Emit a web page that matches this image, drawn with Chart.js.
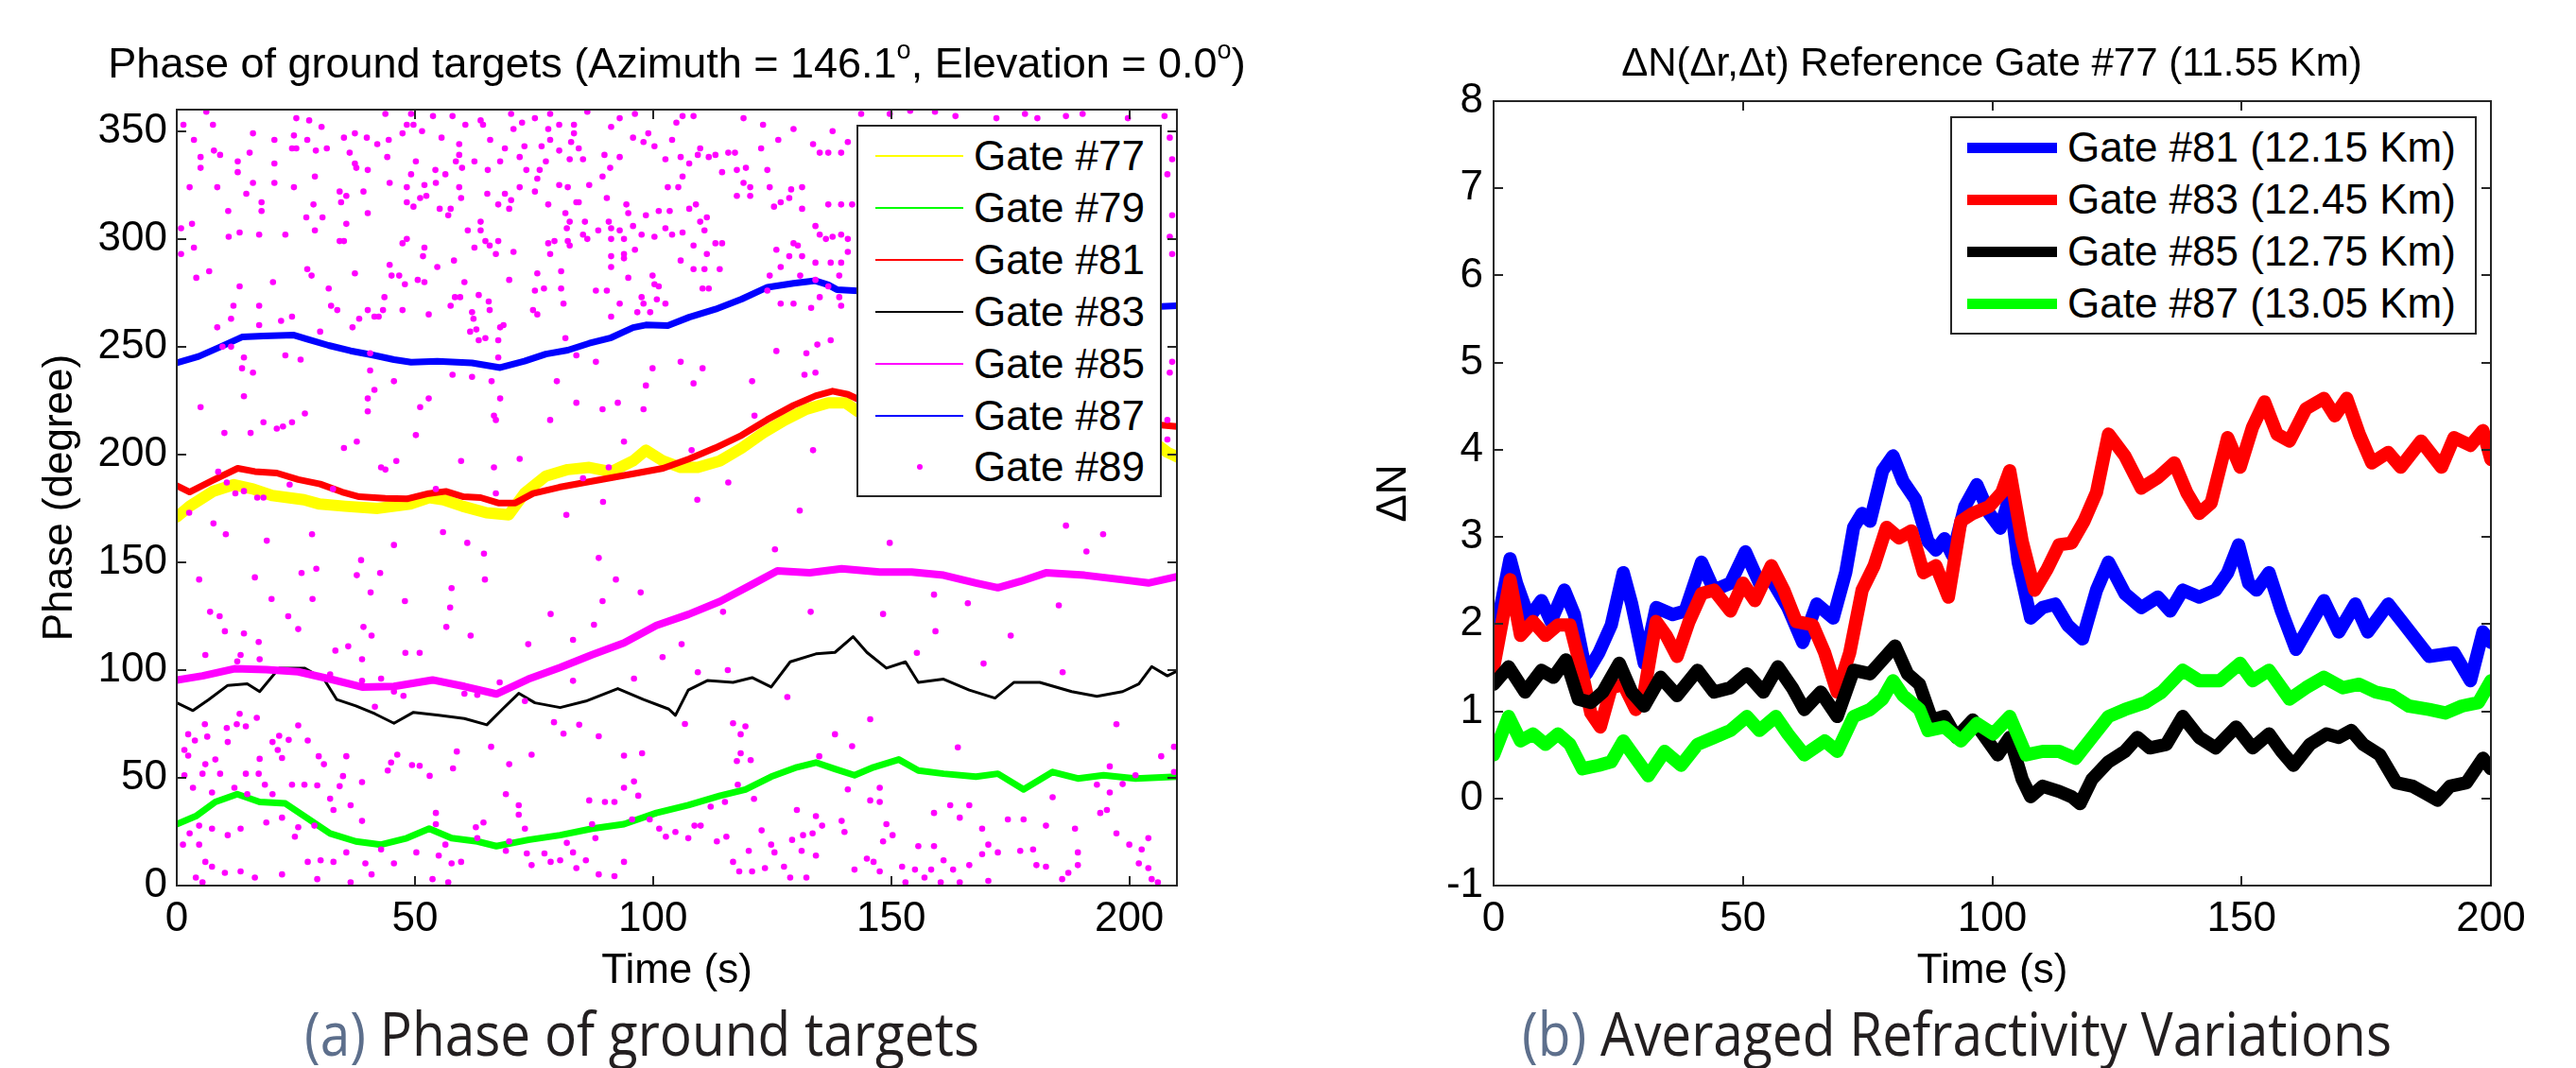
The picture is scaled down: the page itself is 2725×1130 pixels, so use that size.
<!DOCTYPE html>
<html lang="en">
<head>
<meta charset="UTF-8">
<title>Phase of ground targets / Averaged Refractivity Variations</title>
<script src="https://cdn.jsdelivr.net/npm/chart.js"></script>
<style>
  body { margin: 0; width: 2725px; height: 1130px; background: #fff; position: relative; overflow: hidden;
         font-family: "Liberation Sans", Arial, sans-serif; color: #000; }
  canvas { position: absolute; top: 0; }
  #chartA { left: 0; }
  #chartB { left: 1360px; }
  .ttl { position: absolute; white-space: nowrap; line-height: 1; transform: translateX(-50%); }
  .ttl sup { font-size: 0.6em; vertical-align: baseline; position: relative; top: -0.75em; }
  .legend { position: absolute; background: #fff; border: 2px solid #262626; box-sizing: border-box; }
  .legend .swatch { position: absolute; }
  .legend .txt { position: absolute; line-height: 1; font-size: 44px; white-space: nowrap; }
  .caption { position: absolute; white-space: nowrap; line-height: 1; font-family: "Open Sans", sans-serif;
             font-size: 64px; color: #231f20; transform-origin: 0 0; }
  .caption .lab { color: #5d6f8c; }
</style>
</head>
<body>
<canvas id="chartA" width="1360" height="1130"></canvas>
<canvas id="chartB" width="1365" height="1130"></canvas>

<div class="ttl" style="left:716px; top:44px; font-size:45px;">Phase of ground targets (Azimuth = 146.1<sup>o</sup>, Elevation = 0.0<sup>o</sup>)</div>
<div class="ttl" style="left:2107px; top:45px; font-size:42px;">&Delta;N(&Delta;r,&Delta;t) Reference Gate #77 (11.55 Km)</div>

<div id="legendA" class="legend" style="left:906px; top:132px; width:323px; height:394px;"></div>
<div id="legendB" class="legend" style="left:2063px; top:123px; width:557px; height:231px;"></div>

<div class="caption" id="capA" style="left:322px; top:1061px;"><span class="lab">(a)</span> Phase of ground targets</div>
<div class="caption" id="capB" style="left:1610px; top:1061px;"><span class="lab">(b)</span> Averaged Refractivity Variations</div>

<script>
// ---------- (a) phase of ground targets: [time s, phase deg] ----------
const g77 = [[0,171],[2.7,176],[7.7,183],[12,186],[16,184],[20,181],[26.7,179],[30,177],[35.3,176],[42.2,175],[49,177],[53,180],[56,179],[60,176],[65,173],[69.7,172],[73,182],[77.5,190],[82.1,193],[86.6,194],[91.2,192],[95.8,197],[98.5,202],[102.1,197],[105.8,194],[109.4,194],[114,197],[118.6,203],[123.1,210],[127.7,216],[132.2,221],[136.8,224],[140.4,224],[143,220],[160,215],[185,210],[205,206],[208,201],[210,199]];
const g79 = [[0,28.5],[4,32.2],[8.1,38.8],[12.7,42.4],[17.4,38.8],[22.8,38.1],[26.8,32.2],[32.2,24.2],[37.6,20.5],[42.9,19],[48.3,22],[53,26.4],[57.7,22],[63.1,20.5],[67.1,18.3],[73.8,21.2],[80.5,23.4],[87.2,26.4],[93.9,28.5],[100.7,33.7],[107.4,37.3],[114.1,41.7],[119.4,44.6],[124.8,50.5],[130.2,54.9],[134.2,57.1],[138.2,54.1],[142.3,51.2],[146.3,54.9],[151.6,58.5],[155.7,53.4],[161,51.9],[167.8,50.5],[172.4,51.9],[177.8,44.6],[183.9,52.7],[189.2,49.7],[194.6,51.2],[201.3,49.7],[210,50.5]];
const g81 = [[0,185.5],[2.7,182.6],[7.3,187.7],[12.8,193.6],[16.4,192.1],[21,191.4],[25.5,188.4],[30.1,186.3],[34.7,182.6],[38.3,180.4],[43.8,179.7],[48.3,179.4],[52.9,181.9],[56.5,182.9],[60.2,180.4],[63.8,180],[67.5,177.5],[71.1,177.5],[74.8,181.9],[80.3,184.8],[85.7,187],[91.2,189.2],[96.7,191.4],[102.1,193.6],[107.6,198],[113.1,203.1],[118.6,208.9],[124,216.2],[129.5,222.8],[134.1,227.2],[137.7,229.4],[140.9,227.9],[143,225.7],[160,220],[185,216],[205,214],[210,213]];
const g83 = [[0,84.8],[3.4,81.2],[6.7,86.3],[10.7,92.9],[14.8,93.6],[17.4,90],[21.5,100.9],[26.8,100.9],[30.9,95.8],[33.6,86.3],[37.6,83.4],[41.6,79.7],[45.6,75.3],[49.7,80.4],[55,79],[60.4,77.5],[65.1,74.6],[68.4,81.9],[71.8,89.2],[75.2,84.8],[80.5,82.6],[85.9,85.6],[92.6,91.4],[98,86.3],[103.3,81.9],[104.7,79],[107.4,90.7],[111.4,95.1],[116.8,94.3],[120.8,96.5],[124.8,92.1],[128.8,103.8],[134.2,107.5],[138.2,108.2],[142,115.5],[144.9,108.2],[149,100.9],[153,103.8],[155.7,94.3],[161,95.8],[166.4,90.7],[171.8,87],[175.8,94.3],[181.2,94.3],[187.9,90],[193.2,87.8],[198.6,90],[202,93.6],[204.7,101.6],[208,97.3],[210,99.5]];
const g85 = [[0,95.4],[5.4,97.3],[12.1,100.6],[18.8,100.2],[25.5,99.2],[32.2,95.8],[38.9,92.1],[45.6,92.4],[53.7,95.4],[60.4,92.4],[67.1,88.9],[73.8,95.8],[80.5,101.2],[87.2,107.1],[93.9,112.6],[100.7,120.7],[107.4,125.8],[114.1,131.9],[120.8,139.7],[126.1,146],[132.9,145.1],[139.6,147],[147.6,145.5],[154.3,145.5],[161,144],[167.8,140.4],[172.4,138.2],[177.1,141.1],[182.5,145.1],[190.6,144],[198.6,141.9],[204,140.4],[210,143.3]];
const g87 = [[0,242.5],[4.6,245.5],[9.1,249.9],[13.7,254.5],[18.2,255],[24.6,255.4],[27.4,253.5],[31.9,250.6],[36.5,248.1],[41,246.2],[45.6,244],[49.2,242.8],[54.7,243.3],[62,242.5],[67.9,240.3],[73,243.3],[77.5,246.6],[82.1,248.4],[86.6,251.6],[91.2,254.2],[95.8,258.9],[98.5,260.1],[103.1,259.8],[107.6,263.7],[113.1,267.4],[118.6,272.1],[124,277.6],[129.5,279.4],[134.1,280.6],[136.8,278.7],[138.6,276.5],[143,275.9],[160,274],[180,271],[200,268],[210,269]];
// gate #89: scattered phase samples
const g89 = [
  [1.4,353],[3.6,346],[7.6,353],[6.2,359],[25.1,356],[27.8,355],[30.4,352],[16,349],[24.6,348],[27.4,346],[20.5,346],[5,338],[5,333],[7.8,341],[9.1,339],[12.8,336],[12.8,331],[15.3,340],[16,326],[20.5,335],[20.5,326],[24.2,342],[25.1,342],[24.6,324],[2.7,324],[3.2,307],[0.9,305],[3.6,296],[0.9,293],[8.5,324],[10.8,313],[10.9,301],[13.2,303],[17.3,302],[17.8,317],[17.8,313],[14.6,321],[22.8,302],
  [29.2,341],[31.5,342],[29,329],[28.7,316],[27.2,310],[30.6,310],[29,304],[34.2,322],[34.5,317],[35.6,320],[34.2,299],[35.1,299],[35.6,307],[37.4,349],[35.1,347],[37.4,335],[37.7,333],[36.3,340],[40.1,332],[39.2,322],[40.1,312],[39.9,347],[42.1,344],[44.5,346],[44.2,338],[44.7,326],[47.4,349],[49.7,353],[51.5,350],[50.2,336],[49.2,330],[48.3,324],[51.1,319],[48.3,317],[49.7,315],[52.4,320],[52,325],[54.4,326],[54.3,332],[56.4,330],[55.2,314],[57,311],[57.5,314],
  [59.3,339],[58.6,336],[59.9,333],[59.3,324],[59.7,319],[60.6,353],[62.5,336],[64.3,353],[65.3,332],[65.2,321],[67.5,316],[63.8,308],[61.1,304],[63.8,304],[62.5,296],[64.8,299],[65.7,297],[67.5,299],[67,293],[68.9,321],[69.8,314],[68.9,342],[70.7,351],[73,343],[72,338],[73.4,332],[67.9,336],[65.8,346],[63.8,355],[53.8,357],[49.2,358],[43.8,358],[57.9,357],[55.6,347],[59.3,344],[48.3,353],
  [47.4,298],[48.3,300],[52,296],[51.7,292],[54.7,287],[58.2,290],[44.7,288],[45.1,283],[46.7,283],[47.9,279],[37.4,284],[52,280],[60.4,280],[58.4,273],[59.5,273],[57.5,269],[63.4,274],[65.5,271],[65.7,267],[62,266],[62.3,263],[61.6,257],[62.9,258],[63.4,253],[64.8,254],[67.9,259],[68.6,260],[67.5,253],[69.8,281],[70.7,294],
  [75.2,276],[77.1,277],[75.7,284],[80.7,285],[80.7,277],[81.2,270],[74.8,267],[75.7,265],[78,298],[78.4,293],[79.3,299],[82.1,299],[82.5,297],[81.6,312],[81.9,305],[85.7,308],[86.2,300],[88.5,304],[90.7,308],[91.2,300],[93.9,300],[93,304],[93.9,293],[96.2,295],[97.6,302],[98.5,311],[101.2,313],[103.5,313],[102.6,305],[100.3,301],[104,302],[106.2,303],[107.6,314],[109,316],[109.9,308],[111.3,310],[110.8,304],[113.1,298],[114.5,298],
  [105.8,290],[108.5,297],[111.3,293],[110.8,286],[108.5,286],[114,286],[110.4,277],[111.7,277],[99.9,283],[100.3,279],[101.2,278],[97.6,273],[98,270],[96.7,266],[93,270],[91.2,264],[99.4,266],[100.8,272],[102.6,270],[88,276],[90.3,276],[94.4,316],[94.8,312],[83.9,317],[86.6,325],[89.4,329],[90.3,319],[91,333],[93,338],[89.8,339],[95.8,347],[99,349],[98,345],[100.3,343],[102.6,337],[104,346],[105.8,338],[105.3,324],[103.1,324],[106.2,329],[107.6,335],
  [109.4,339],[109.9,342],[111.7,338],[113.1,339],[114.5,331],[115.8,340],[117.2,340],[117.6,332],[119.5,333],[119,326],[120.4,324],[117.6,320],[120.4,320],[122.7,342],[124,332],[124.5,324],[125.4,315],[126.8,317],[128.6,319],[129,323],[131.3,324],[131.3,314],[133.6,344],[135,340],[136.8,340],[139.5,340],[137.7,350],[140.9,345],[129.5,351],[126.3,346],[123.1,353],[119,356],[108.5,357],[106.2,357],[104.9,354],[96.2,358],[93,356],[91.2,352],[86.2,359],[83.4,353],[83.4,349],[80.3,353],[78.4,358],[75.2,356],[70.2,358],[72.5,354],
  [76.6,343],[78,351],[77.5,336],[76.2,332],[80.3,325],[80.3,341],[82.8,345],[84.4,342],[85.3,337],[82.5,337],[78.4,346],[72,324],[70.2,318],[75.2,322],[75.7,328],[78,316],[82.1,324],[84.4,317],[82.5,308],[85.3,302],[91.2,305],[95.8,306],[134.1,306],[135,302],[136.3,300],[137.7,301],[139.5,302],[140.9,300],[141.8,316],[139.5,316],[136.8,316],[129.5,298],[130.4,297],[125.9,295],[126.8,287],[128.6,292],[131.3,292],[134.1,289],[137.3,289],[139.5,289],[140.9,294],[130.9,283],[134.1,281],[139.1,283],[135,273],[139.1,273],[136.8,278],[139.5,269],[133.2,268],[129.5,270],[126.8,270],[124.5,283],[124,276],[91.2,292],[93.9,291],[91.2,287],[94.8,282],
  [9.6,250],[11.4,250],[14.1,245],[13.7,240],[16,238],[22.8,246],[26,244],[14.1,227],[5,222],[40.6,239],[40.6,247],[41.5,230],[40.1,226],[40.1,220],[45.6,234],[50.2,209],[52.9,226],[51.1,222],[57.9,237],[62,236],[66.1,234],[67.9,226],[67.5,245],[66.6,218],[67,216],[81.6,254],[83.9,246],[88,243],[79.8,234],[83.9,224],[78.4,216],[89.4,221],[92.6,224],[98,221],[93.9,206],[98.5,232],[99.9,240],[105.8,243],[108.5,233],[110.4,240],[121.3,218],[120.8,234],[125.9,248],[132.2,247],[134.5,251],[137.3,253],[131.8,237],[134.1,238],
  [133.6,202],[115.8,187],[108.1,202],[90.7,194],[85.3,189],[72,198],[66.6,194],[67,182],[59.7,197],[54.4,184],[46.1,197],[42.9,194],[43.8,193],[37.8,206],[35.1,203],[32.8,184],[26.9,219],[24.2,215],[22.3,213],[21,212],[18.2,215],[15.5,210],[10,210],[8.7,192],[12.3,182],[14.1,183],[16.9,180],[18.2,180],[23.7,186],[10.5,187],[30.1,257],[36.9,259],[38.3,263],[42.4,264],[43.3,267],[47.4,267],[52.9,265],[50.6,281],[43.6,273],[40.1,267],[41.5,264],[31.9,277],[32.4,269],[33.7,267],[24.2,264],[21.9,262],[17.3,260],[11.4,263],[8.5,259],[11.9,269],[13.2,278],[17.3,269],[20.2,280],[27.4,286],[28.3,283],[6.8,285],[4.1,282],
  [143.7,358],[149.7,358],[154,359.5],[159.2,359],[163.5,357],[172.1,356],[178.1,358],[180.7,356],[186.7,357],[190.2,358],[199.7,356],[207.4,357],[208.5,347],[209,337],[208,330],[209,311],[208.5,301],[209,293],[209,243],[208.5,238],[208,216],[208,207],
  [2.6,173],[7.7,168],[10.3,163],[18.9,160],[28.4,163],[38.7,151],[45.6,158],[55.9,164],[61,159],[64.5,154],[81.8,172],[89.5,178],[88.6,152],[109.3,179],[125.6,156],[130.8,174],[149.7,159],[186.7,167],[194.5,163],[191,155],
  [4.7,142],[16.4,143],[26.2,145],[29.3,147],[37.8,144],[42.7,145],[19.9,133],[28.5,133],[40.7,136],[47.9,132],[57.7,138],[57.4,129],[64.7,142],[92.2,142],[97.4,136],[89.4,132],[7,127],[9,125],[23.4,125],[10.1,118],[14.1,117],[17.2,113],[25.5,119],[39.2,120],[40.9,116],[33.3,109],[36,111],[38.9,105],[48,108],[51,108],[61.7,116],[56.6,120],[73.8,112],[78.5,126],[83.2,114],[87.6,121],[106,112],[102,106],[133.1,127],[148.3,126],[159,135],[166.1,131],[159.3,118],[155.4,108],[169.4,103],[175.1,116],[185.2,130],[186,99],[114.7,127],[109.4,99],[115.7,100],[96,96],[83.2,95],
  [13.4,107],[6,107],[17.4,105],[12.7,104],[38.9,95],[42.9,96],[32.2,98],[45.6,90],[47.6,88],[41.6,83],[60.4,89],[63.1,88.5],[67.8,94.3],[61.1,92.1],[73.1,85.6],[79.2,75.8],[84.5,74.6],[81.2,70.5],[88.6,69.3],[119.4,73.9],[116.8,75.3],[128.2,87.5],[145.6,77.2],[141.8,64.7],[164,64.1],[197.3,74.9],[209.4,64.4],[195.9,55.3],[106.7,75],[118.4,70.2],[118.4,61.4],[120.5,58.2],[97.7,61.4],[93.9,60.3],[74.5,60.7],[66,64.4],[69.8,56.3],[58.8,62.2],[58,54.4],[49.4,55.9],[51,55.6],[53.1,50.9],[44.3,53.4],[46.3,60.7],[45,57.1],[38.9,48],[34.2,46.1],[29.5,46.5],[30.9,56.3],[29.8,60],[35.6,60],[34.9,50.8],
  [27.5,67.3],[25.5,74.3],[21.5,69.5],[20.1,66.6],[23.5,67.6],[21.2,62.9],[22.1,59.2],[17.4,58.8],[17.2,51.9],[14.5,51.9],[18.5,46.8],[10.7,66.6],[10.5,73.1],[12.6,74.9],[14.5,73.9],[13.2,79.7],[16.8,77.8],[5.9,74.9],[2.4,70.2],[6.4,69.1],[3.8,67.3],[1.6,62.9],[2.4,60.3],[8.1,58.5],[6,56.3],[1.6,51.2],[5.4,51.9],[9.1,51.9],[3.4,45.4],[7.4,43.2],[12.1,45.4],[14.8,42.4],[20.1,42.4],[24.2,46.8],[26.8,46.8],[32.2,40.3],[32.9,35.1],[36.5,37.3],[22.1,31.5],[18.8,29.3],[13.4,26.4],[10.7,23.4],[7.4,26.4],[4.7,27.8],[2.7,24.2],[4.7,19],[1.3,19],[6,11],[10.1,5.9],[13.4,6.6],[7.4,8.8],[4,3.7],[5.4,1.5],[16.4,3.7],[22.1,5.2],[27.5,11],[30.2,11.7],[32.9,11],[35.6,15.4],[39.6,10.3],[40.9,5.2],[36.5,1.5],[29.5,3],
  [24.8,22.7],[25.5,27.1],[28.9,27.8],[38.9,30],[42.9,16.8],[45.6,10.3],[50.3,15.4],[54.4,33.7],[54.4,28.5],[56.4,19],[55,13.9],[57.7,10.3],[53.7,3],[57,1.5],[59.7,11],[63.1,22],[62.8,27.1],[64.4,29.3],[69.1,42.4],[71.8,37.3],[71.8,32.9],[73.1,26.4],[69.8,20.5],[69.1,16.1],[73.5,14.9],[77.2,14.9],[74.5,9.5],[78.5,11],[80.5,11.7],[83.2,15.4],[81.9,19.8],[85.9,11.7],[83.9,8.1],[88.6,5.2],[91.9,4.4],[93.9,11],[87.9,22],[87.2,28.5],[86.6,39.5],[89.9,38.8],[91.9,38.8],[93.9,45.4],[96,48.3],[96.9,41.7],[95.6,30.7],[99.3,30.7],[101.3,26.4],[102.7,22.7],[104.7,24.9],[107.4,22],[108.7,27.8],[110,27.8],[113.4,20.5],[115.4,22.7],[112.1,36.6],[115.1,38.8],[117.8,46.8],[117.6,57.8],[121.2,40.2],
  [116.8,11],[118.1,6.6],[120.8,6.6],[120.1,16.1],[122.8,25.6],[124.8,19],[125.5,15.4],[123.5,8.1],[127.5,8.8],[128.8,3.7],[132.2,3.7],[134.2,13.9],[131.2,16.1],[129.2,21.2],[131.5,23.4],[133.5,24.2],[130.2,35.1],[134.2,32.2],[135.5,27.8],[139.6,30],[140.2,24.9],[140.9,44.6],[145.6,39.5],[147.6,38.8],[149,28.5],[150.3,23.4],[148.3,20.5],[146.3,11],[147.6,6.6],[152.3,8.8],[155.7,18.3],[159,18.3],[155,7.4],[157,3.7],[161,11.7],[163,7.4],[166.4,9.5],[164.4,1.5],[160.4,1.5],[159,33.7],[162.4,37.3],[166.4,37.3],[164.4,31.5],[169.1,26.4],[170.4,19],[169.1,14.6],[172.4,15.4],[174.5,30.7],[177.8,30.7],[177.1,16.1],[179.8,16.8],[180.5,9.5],[182.5,27.8],[183.9,41],[188.6,26.4],[189.2,15.4],[189.2,9.5],[185.9,3],[182.5,8.8],[187.2,5.9],
  [193.9,33.7],[195.3,35.1],[197.3,24.2],[200,19],[204,22],[202.6,16.8],[202,10.3],[204,8.1],[204.7,3],[206,1.5],[195.9,43.2],[193.2,46.8],[198.6,47.1],[201.3,51.2],[206.7,60],[209.4,52.7],[153,1.5],[142.3,7.4],[144.9,12.5],[170.4,2.2],[134.9,60],[138.2,70.2],[147.6,45.4],[158.4,7.4]
];

// ---------- (b) averaged refractivity variations: [time s, delta N] ----------
const b81 = [[0,1.79],[3.3,2.75],[4.6,2.47],[7.1,2.07],[9.6,2.27],[11.5,2.03],[14.2,2.39],[16.2,2.11],[18.6,1.43],[21.1,1.67],[23.6,1.99],[26,2.59],[27.7,2.23],[30.2,1.55],[32.6,2.19],[35.9,2.11],[38.4,2.15],[41.7,2.71],[44.2,2.39],[47.5,2.47],[50.5,2.83],[53.3,2.47],[55.7,2.51],[59,2.19],[62,1.79],[64.8,2.23],[68.1,2.07],[70.6,2.59],[72.2,3.11],[73.9,3.27],[75.5,3.18],[78,3.76],[80.1,3.93],[82.1,3.64],[84.6,3.43],[87.1,2.95],[88.7,2.85],[90.4,2.98],[92,2.79],[94.5,3.35],[96.9,3.6],[99.4,3.27],[101.6,3.1],[103.5,3.47],[105.2,2.71],[107.7,2.07],[110.1,2.19],[112.6,2.23],[115.1,1.99],[118.1,1.83],[120.9,2.39],[123.3,2.71],[126.6,2.35],[129.9,2.19],[133.2,2.31],[135.7,2.15],[138.2,2.39],[141.5,2.31],[144.8,2.39],[147.2,2.59],[149.4,2.91],[151.4,2.47],[153,2.39],[155.5,2.59],[158,2.15],[160.9,1.71],[163.7,1.99],[166.5,2.27],[169.5,1.91],[172.8,2.23],[175.3,1.91],[179.4,2.23],[182.7,1.99],[187.6,1.63],[192.6,1.67],[195.9,1.35],[198.4,1.91],[200,1.79]];
const b83 = [[0,1.5],[3.3,2.51],[5.4,1.87],[7.9,2.03],[10.4,1.87],[12.9,1.99],[15.3,1.99],[17.8,1.43],[19.5,0.98],[21.4,0.82],[23.6,1.27],[26,1.31],[28.5,1.02],[30.2,1.22],[32.6,2.03],[34.6,1.87],[36.8,1.63],[39.2,2.03],[41.7,2.35],[44.2,2.39],[47.5,2.15],[50,2.47],[52.4,2.27],[55.7,2.67],[58.2,2.39],[60.7,2.03],[64,1.99],[66.4,1.67],[68.9,1.22],[71.4,1.67],[73.9,2.39],[76.3,2.67],[78.8,3.11],[81.3,2.99],[83.8,3.07],[86.2,2.59],[88.7,2.67],[91.2,2.31],[93.7,3.18],[96.1,3.27],[99.4,3.35],[101.9,3.51],[103.5,3.76],[106,2.95],[108.5,2.39],[111,2.63],[113.4,2.91],[115.9,2.93],[118.4,3.18],[120.9,3.51],[123.3,4.18],[126.6,3.93],[129.9,3.56],[133.2,3.68],[136.5,3.85],[139,3.51],[141.5,3.27],[143.9,3.39],[147.2,4.14],[149.7,3.8],[152.2,4.26],[154.6,4.55],[157.1,4.18],[159.6,4.1],[162.9,4.47],[166.5,4.59],[168.7,4.39],[171.1,4.59],[173.6,4.18],[176.1,3.85],[179.4,3.97],[181.9,3.8],[186,4.1],[190.1,3.8],[192.6,4.14],[195.9,4.05],[198.4,4.22],[200,3.89]];
const b85 = [[0,1.31],[3,1.51],[6.3,1.22],[9.6,1.47],[12,1.39],[14.5,1.59],[17,1.14],[19.5,1.1],[21.9,1.22],[25.2,1.55],[27.7,1.22],[30.2,1.06],[33.5,1.39],[36.8,1.18],[40.9,1.47],[44.2,1.22],[47.5,1.27],[50.8,1.43],[54.1,1.22],[57,1.51],[59.9,1.27],[62.3,1.02],[65.6,1.22],[68.9,0.94],[72.2,1.47],[75.5,1.43],[78,1.59],[80.5,1.75],[83,1.43],[85.4,1.31],[87.9,0.9],[90.4,0.94],[92.8,0.7],[96.1,0.9],[98.6,0.7],[101.1,0.5],[103.5,0.7],[106,0.22],[107.7,0.02],[110.1,0.14],[113.4,0.08],[115.9,0.02],[117.6,-0.06],[120,0.22],[123.3,0.42],[126.6,0.54],[129.1,0.7],[131.6,0.58],[134.9,0.62],[138.2,0.94],[141.5,0.7],[144.8,0.58],[148.9,0.82],[152.2,0.58],[155.5,0.74],[158,0.54],[160.4,0.38],[163.7,0.62],[167,0.74],[169.5,0.7],[172,0.78],[174.4,0.62],[177.7,0.5],[181,0.18],[184.3,0.14],[186.8,0.06],[189.3,-0.02],[191.8,0.14],[195.1,0.18],[198.4,0.46],[200,0.34]];
const b87 = [[0,0.5],[3,0.94],[5.4,0.66],[7.9,0.74],[10.4,0.62],[12.9,0.74],[15.3,0.62],[17.8,0.34],[21.1,0.38],[23.6,0.42],[26,0.66],[28.5,0.46],[31,0.26],[34.3,0.54],[37.6,0.38],[40.9,0.62],[44.2,0.7],[47.5,0.78],[50.8,0.94],[53.3,0.78],[56.6,0.94],[59,0.74],[62.3,0.5],[66.4,0.66],[68.9,0.54],[72.2,0.94],[75.5,1.02],[78,1.14],[80.1,1.35],[82.1,1.18],[85.4,1.02],[87.1,0.78],[90.4,0.82],[93.7,0.66],[96.9,0.86],[100.2,0.74],[103.5,0.94],[106.8,0.5],[110.1,0.54],[113.4,0.54],[116.7,0.46],[120,0.7],[123.3,0.94],[126.6,1.02],[130.7,1.1],[134,1.22],[138.2,1.47],[141.5,1.35],[145.6,1.35],[149.7,1.55],[152.2,1.35],[155.5,1.47],[159.6,1.14],[162.9,1.27],[166.5,1.39],[170.3,1.27],[173.6,1.31],[176.9,1.22],[180.2,1.18],[183.5,1.06],[187.6,1.02],[190.9,0.98],[194.2,1.06],[197.5,1.1],[200,1.35]];

const legendA = ['Gate #77', 'Gate #79', 'Gate #81', 'Gate #83', 'Gate #85', 'Gate #87', 'Gate #89'];
const legendB = ['Gate #81 (12.15 Km)', 'Gate #83 (12.45 Km)', 'Gate #85 (12.75 Km)', 'Gate #87 (13.05 Km)'];

const FONT = { family: '"Liberation Sans", Arial, sans-serif', size: 44 };
const LABEL_FONT = { family: '"Liberation Sans", Arial, sans-serif', size: 44 };

const pts = arr => arr.map(([x, y]) => ({ x, y }));

// matlab-like box with inward ticks on all four sides
const axesBox = {
  id: 'axesBox',
  afterDatasetsDraw(chart) {
    const { ctx, chartArea: a, scales: { x, y } } = chart;
    const len = 10;
    ctx.save();
    ctx.strokeStyle = '#262626';
    ctx.lineWidth = 2;
    ctx.strokeRect(a.left, a.top, a.right - a.left, a.bottom - a.top);
    ctx.beginPath();
    x.ticks.forEach(t => {
      const px = Math.round(x.getPixelForValue(t.value));
      ctx.moveTo(px, a.bottom); ctx.lineTo(px, a.bottom - len);
      ctx.moveTo(px, a.top); ctx.lineTo(px, a.top + len);
    });
    y.ticks.forEach(t => {
      const py = Math.round(y.getPixelForValue(t.value));
      ctx.moveTo(a.left, py); ctx.lineTo(a.left + len, py);
      ctx.moveTo(a.right, py); ctx.lineTo(a.right - len, py);
    });
    ctx.stroke();
    ctx.restore();
  }
};

function lineSet(label, data, color, width, order) {
  return { label, data: pts(data), showLine: true, borderColor: color, backgroundColor: color,
           borderWidth: width, pointRadius: 0, borderJoinStyle: 'round', borderCapStyle: 'round', order };
}

function axis(opts) {
  return {
    type: 'linear', min: opts.min, max: opts.max,
    ticks: { stepSize: opts.step, includeBounds: false, font: FONT, color: '#000', padding: opts.pad,
             maxRotation: 0, autoSkip: false },
    grid: { display: false, drawTicks: false },
    border: { display: false },
    title: { display: true, text: opts.title, font: LABEL_FONT, color: '#000', padding: opts.titlePad },
    afterFit: opts.fit
  };
}

function baseOptions(pad, xAxis, yAxis) {
  return {
    responsive: false, animation: false, devicePixelRatio: 1, events: [],
    layout: { padding: pad },
    plugins: { legend: { display: false }, tooltip: { enabled: false }, title: { display: false } },
    scales: { x: xAxis, y: yAxis }
  };
}

new Chart(document.getElementById('chartA'), {
  type: 'scatter',
  data: {
    datasets: [
      lineSet(legendA[0], g77, '#ffff00', 12, 7),
      lineSet(legendA[1], g79, '#00ff00', 7, 6),
      lineSet(legendA[2], g81, '#ff0000', 7, 5),
      lineSet(legendA[3], g83, '#000000', 3, 4),
      lineSet(legendA[4], g85, '#ff00ff', 8, 3),
      lineSet(legendA[5], g87, '#0000ff', 7, 2),
      { label: legendA[6], data: pts(g89), showLine: false, pointRadius: 3.3, pointBorderWidth: 0,
        backgroundColor: '#ff00ff', order: 1 }
    ]
  },
  options: baseOptions({ left: 0, top: 116, right: 115, bottom: 0 },
    axis({ min: 0, max: 210, step: 50, pad: 9, title: 'Time (s)', titlePad: { top: 0, bottom: 76 },
           fit: s => { s.height = 193; } }),
    axis({ min: 0, max: 360, step: 50, pad: 10, title: 'Phase (degree)', titlePad: { top: 37, bottom: 0 },
           fit: s => { s.width = 187; } })),
  plugins: [axesBox]
});

new Chart(document.getElementById('chartB'), {
  type: 'scatter',
  data: {
    datasets: [
      lineSet(legendB[0], b81, '#0000ff', 14, 4),
      lineSet(legendB[1], b83, '#ff0000', 14, 3),
      lineSet(legendB[2], b85, '#000000', 14, 2),
      lineSet(legendB[3], b87, '#00ff00', 14, 1)
    ]
  },
  options: baseOptions({ left: 0, top: 107, right: 90, bottom: 0 },
    axis({ min: 0, max: 200, step: 50, pad: 9, title: 'Time (s)', titlePad: { top: 0, bottom: 76 },
           fit: s => { s.height = 193; } }),
    axis({ min: -1, max: 8, step: 1, pad: 11, title: '\u0394N', titlePad: { top: 88, bottom: 0 },
           fit: s => { s.width = 220; } })),
  plugins: [axesBox]
});

// legends drawn as html boxes over the axes
function buildLegend(id, labels, colors, opts) {
  const box = document.getElementById(id);
  labels.forEach((txt, i) => {
    const cy = opts.first + i * opts.step;
    const sw = document.createElement('div');
    sw.className = 'swatch';
    sw.style.cssText = `left:${opts.swLeft}px; width:${opts.swWidth}px; top:${cy - opts.thick / 2}px; height:${opts.thick}px; background:${colors[i]};`;
    if (opts.dotIndex === i) {
      sw.style.cssText = `left:${opts.swLeft + opts.swWidth / 2 - 3}px; width:6px; height:6px; top:${cy - 3}px; border-radius:3px; background:${colors[i]};`;
    }
    const t = document.createElement('div');
    t.className = 'txt';
    t.textContent = txt;
    t.style.left = opts.txtLeft + 'px';
    t.style.top = (cy - 22) + 'px';
    box.appendChild(sw);
    box.appendChild(t);
  });
}
buildLegend('legendA', legendA, ['#ffff00', '#00ff00', '#ff0000', '#000000', '#ff00ff', '#0000ff', '#ff00ff'],
  { first: 31, step: 54.9, swLeft: 18, swWidth: 93, thick: 2, txtLeft: 122, dotIndex: 6 });
buildLegend('legendB', legendB, ['#0000ff', '#ff0000', '#000000', '#00ff00'],
  { first: 31, step: 55, swLeft: 16, swWidth: 95, thick: 11, txtLeft: 122 });

// squeeze captions to the measured widths of the reference
function fitCaption(id, width) {
  const el = document.getElementById(id);
  const w = el.getBoundingClientRect().width;
  el.style.transform = `scaleX(${width / w})`;
}
document.fonts.ready.then(() => {
  fitCaption('capA', 714);
  fitCaption('capB', 920);
});
</script>
</body>
</html>
